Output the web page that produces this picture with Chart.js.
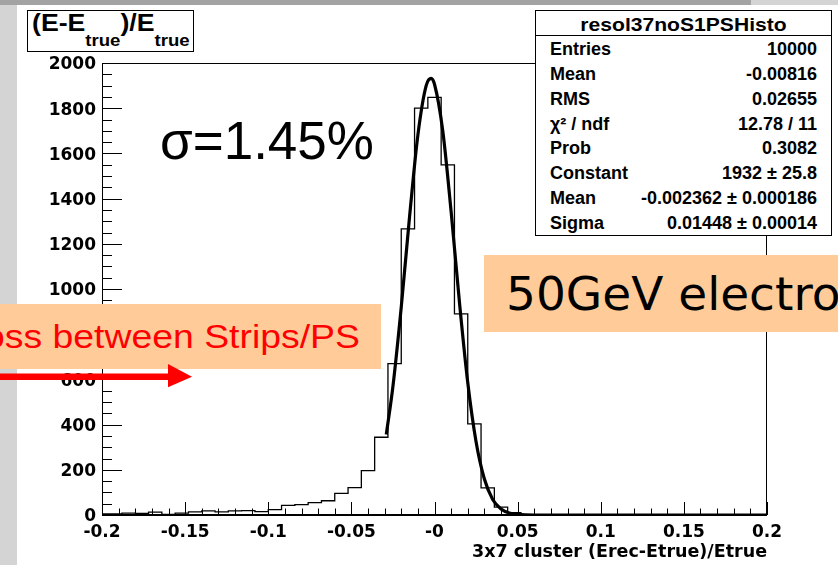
<!DOCTYPE html>
<html>
<head>
<meta charset="utf-8">
<script src="https://cdn.jsdelivr.net/npm/chart.js@4.4.0/dist/chart.umd.min.js"></script>
<style>
body { margin: 0; background: #fff; }
#page { position: relative; width: 838px; height: 565px; overflow: hidden; background: #fff; }
#page div, #page span { white-space: nowrap; }
.abs { position: absolute; }
#histo { position: absolute; left: 0; top: 0; }
.stat { position: absolute; font: bold 18px "Liberation Sans", Arial, sans-serif; line-height: 18px; color: #000; }
.sub { position: relative; top: 15px; font-size: 16px; }
</style>
</head>
<body>
<div id="page">
  <!-- slide background bits -->
  <div class="abs" style="left:0;top:0;width:17px;height:565px;background:#d4d4d4"></div>
  <div class="abs" style="left:0;top:0;width:751px;height:5px;background:#a3a3a3"></div>
  <div class="abs" style="left:751px;top:0;width:87px;height:5px;background:#d4d4d4"></div>

  <canvas id="histo" width="838" height="565"></canvas>

  <!-- y title box -->
  <div class="abs" style="left:27px;top:10px;width:167px;height:42px;border:1px solid #000;box-sizing:border-box;background:#fff"></div>
  <span class="abs" style="left:32px;top:12px;font:bold 23px 'Liberation Sans',Arial,sans-serif;line-height:23px;transform:scaleX(1.16);transform-origin:0 0">(E-E<span class="sub">true</span>)/E<span class="sub">true</span></span>

  <!-- stats box -->
  <div id="stats" class="abs" style="left:535px;top:10px;width:297px;height:226px;border:1px solid #000;box-sizing:border-box;background:#fff"></div>
  <div class="abs" style="left:535px;top:35px;width:297px;height:1px;background:#000"></div>

  <!-- annotations -->
  <span class="abs" style="left:160px;top:114px;font:53px 'Liberation Sans',Arial,sans-serif;line-height:53px;color:#000">σ=1.45%</span>

  <div class="abs" style="left:0;top:304px;width:381px;height:65px;background:#ffcc99"></div>
  <div class="abs" style="left:-100px;top:321px;width:460px;text-align:right;font:32.5px 'Liberation Sans',Arial,sans-serif;line-height:32.5px;color:#ff0000">
    <span style="display:inline-block;transform:scaleX(1.15);transform-origin:100% 0">oss between Strips/PS</span>
  </div>
  <svg class="abs" style="left:0;top:360px" width="200" height="32">
    <rect x="0" y="13.5" width="170" height="6.5" fill="#ff0000"/>
    <polygon points="168,4 192,16.7 168,27.3" fill="#ff0000"/>
  </svg>

  <div class="abs" style="left:484px;top:255px;width:354px;height:77px;background:#ffcc99"></div>
  <span class="abs" style="left:506px;top:270px;font:47px 'Comic Sans MS','DejaVu Sans',sans-serif;line-height:47px;color:#000">50GeV electron</span>
</div>

<script>
// histogram: 51 bins of width 0.008
const binWidth = 0.008;
const binCenters = [-0.2, -0.192, -0.184, -0.176, -0.168, -0.16, -0.152, -0.144, -0.136, -0.128,
    -0.12, -0.112, -0.104, -0.096, -0.088, -0.08, -0.072, -0.064, -0.056, -0.048,
    -0.04, -0.032, -0.024, -0.016, -0.008, 0, 0.008, 0.016, 0.024, 0.032,
    0.04, 0.048, 0.056, 0.064, 0.072, 0.08, 0.088, 0.096, 0.104, 0.112,
    0.12, 0.128, 0.136, 0.144, 0.152, 0.16, 0.168, 0.176, 0.184, 0.192, 0.2];
const counts = [5, 5, 8, 7, 13, 3, 8, 14, 18, 14,
    18, 19, 15, 24, 43, 46, 55, 63, 96, 121,
    196, 344, 670, 1266, 1800, 1848, 1549, 890, 403, 120,
    35, 10, 0, 0, 0, 0, 0, 0, 0, 0,
    0, 0, 0, 0, 0, 0, 0, 0, 0, 0, 0];

// gaussian fit curve
const fitX = [-0.029, -0.025, -0.02, -0.015, -0.01, -0.005, -0.002, 0, 0.005, 0.01,
    0.015, 0.02, 0.025, 0.03, 0.035, 0.04, 0.045, 0.05, 0.06, 0.08, 0.2];
const fitY = [356, 569, 920, 1320, 1681, 1900, 1932, 1906, 1698, 1342,
    942, 586, 324, 159, 69, 27, 9, 3, 0, 0, 0];

// axes
const xTickValues = [-0.2, -0.15, -0.1, -0.05, 0, 0.05, 0.1, 0.15, 0.2];
const xTickLabels = ['-0.2', '-0.15', '-0.1', '-0.05', '-0', '0.05', '0.1', '0.15', '0.2'];
const yTickValues = [0, 200, 400, 600, 800, 1000, 1200, 1400, 1600, 1800, 2000];
const yTickLabels = ['0', '200', '400', '600', '800', '1000', '1200', '1400', '1600', '1800', '2000'];

// stats box
const statLabels = ['Entries', 'Mean', 'RMS', 'χ² / ndf', 'Prob', 'Constant', 'Mean', 'Sigma'];
const statValues = ['10000', '-0.00816', '0.02655', '12.78 / 11', '0.3082', '1932 ± 25.8', '-0.002362 ± 0.000186', '0.01448 ± 0.00014'];
const statTitle = 'resol37noS1PSHisto';

// fill stats box
const page = document.getElementById('page');
const t = document.createElement('div');
t.className = 'stat';
t.style.cssText += 'left:535px;top:16px;width:297px;text-align:center;font-size:18.5px;line-height:18.5px';
t.innerHTML = '<span style="display:inline-block;transform:scaleX(1.14)">' + statTitle + '</span>';
page.appendChild(t);
statLabels.forEach((lab, i) => {
    const top = 55 + i * 24.9 - 15.2;
    const l = document.createElement('div');
    l.className = 'stat';
    l.style.left = '550px';
    l.style.top = top + 'px';
    l.textContent = lab;
    page.appendChild(l);
    const v = document.createElement('div');
    v.className = 'stat';
    v.style.left = '560px';
    v.style.width = '257px';
    v.style.textAlign = 'right';
    v.style.top = top + 'px';
    v.textContent = statValues[i];
    page.appendChild(v);
});

// step outline points from bins
const histPoints = binCenters.map((c, i) => ({ x: c - binWidth / 2, y: counts[i] }));
histPoints.push({ x: binCenters[binCenters.length - 1] + binWidth / 2, y: counts[counts.length - 1] });
const fitPoints = fitX.map((x, i) => ({ x: x, y: fitY[i] }));

// ROOT-like frame with inward ticks
const rootFrame = {
    id: 'rootFrame',
    afterDatasetsDraw(chart) {
        const { ctx, chartArea: a, scales: { x, y } } = chart;
        ctx.save();
        ctx.strokeStyle = '#000';
        ctx.lineWidth = 1;
        ctx.strokeRect(a.left + 0.5, a.top + 0.5, a.right - a.left - 1, a.bottom - a.top - 1);
        ctx.lineWidth = 2;
        ctx.beginPath();
        ctx.moveTo(a.left, a.bottom);
        ctx.lineTo(a.right, a.bottom);
        ctx.stroke();
        ctx.lineWidth = 1;
        ctx.beginPath();
        for (let i = 0; i <= 40; i++) {
            const px = Math.round(x.getPixelForValue(-0.2 + i * 0.01)) + 0.5;
            const len = i % 5 === 0 ? 13 : 6.5;
            ctx.moveTo(px, a.bottom);
            ctx.lineTo(px, a.bottom - len);
        }
        for (let i = 0; i <= 40; i++) {
            const py = Math.round(y.getPixelForValue(i * 50)) + 0.5;
            const len = i % 4 === 0 ? 20 : 10;
            ctx.moveTo(a.left, py);
            ctx.lineTo(a.left + len, py);
        }
        ctx.stroke();
        ctx.restore();
    }
};

const tickFont = { family: 'DejaVu Sans', weight: 'bold', size: 17 };

new Chart(document.getElementById('histo'), {
    type: 'line',
    data: {
        datasets: [{
            data: fitPoints,
            borderColor: '#000',
            borderWidth: 3.2,
            pointRadius: 0,
            cubicInterpolationMode: 'monotone',
            fill: false,
            order: 0,
        }, {
            data: histPoints,
            borderColor: '#000',
            borderWidth: 1.3,
            pointRadius: 0,
            stepped: 'before',
            fill: false,
            order: 1,
        }],
    },
    options: {
        responsive: false,
        animation: false,
        layout: { padding: { top: 63, right: 71, left: 0, bottom: 0 } },
        plugins: { legend: { display: false }, tooltip: { enabled: false } },
        scales: {
            x: {
                type: 'linear',
                min: -0.2,
                max: 0.2,
                grid: { display: false, drawTicks: false },
                border: { display: false },
                afterBuildTicks: (s) => { s.ticks = xTickValues.map(v => ({ value: v })); },
                afterFit: (s) => { s.height = 50; },
                ticks: {
                    autoSkip: false,
                    maxRotation: 0,
                    padding: 7,
                    color: '#000',
                    font: tickFont,
                    callback: (v, i) => xTickLabels[i],
                },
                title: {
                    display: true,
                    text: '3x7 cluster (Erec-Etrue)/Etrue',
                    align: 'end',
                    color: '#000',
                    font: { family: 'DejaVu Sans', weight: 'bold', size: 17.5 },
                    padding: { top: 0, bottom: 2 },
                },
            },
            y: {
                min: 0,
                max: 2000,
                grid: { display: false, drawTicks: false },
                border: { display: false },
                afterBuildTicks: (s) => { s.ticks = yTickValues.map(v => ({ value: v })); },
                afterFit: (s) => { s.width = 102; },
                ticks: {
                    autoSkip: false,
                    padding: 6,
                    labelOffset: 2,
                    color: '#000',
                    font: tickFont,
                    callback: (v, i) => yTickLabels[i],
                },
            },
        },
    },
    plugins: [rootFrame],
});
</script>
</body>
</html>
